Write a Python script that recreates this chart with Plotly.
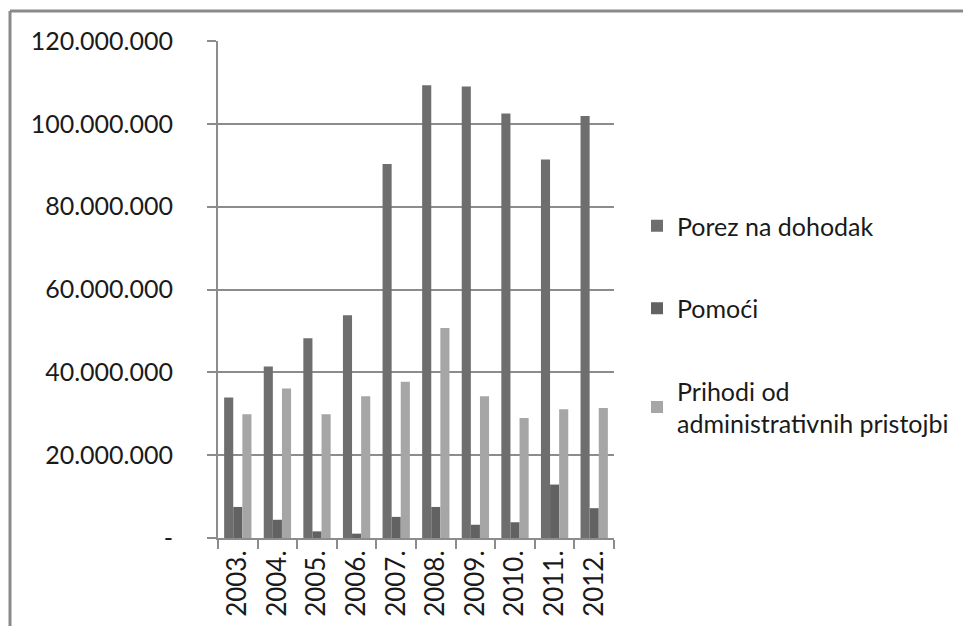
import plotly.graph_objects as go

years = ["2003.", "2004.", "2005.", "2006.", "2007.", "2008.", "2009.", "2010.", "2011.", "2012."]
porez = [33.9e6, 41.4e6, 48.2e6, 53.8e6, 90.3e6, 109.3e6, 109.0e6, 102.5e6, 91.4e6, 101.9e6]
pomoci = [7.5e6, 4.4e6, 1.6e6, 1.05e6, 5.1e6, 7.5e6, 3.2e6, 3.8e6, 12.9e6, 7.2e6]
prihodi = [29.9e6, 36.1e6, 29.9e6, 34.2e6, 37.7e6, 50.7e6, 34.2e6, 29.0e6, 31.1e6, 31.4e6]
series_names = ["Porez na dohodak", "Pomoći", "Prihodi od<br>administrativnih pristojbi"]
tick_vals = [0, 20e6, 40e6, 60e6, 80e6, 100e6, 120e6]
tick_text = ["-", "20.000.000", "40.000.000", "60.000.000", "80.000.000", "100.000.000", "120.000.000"]

colors = ["#6e6e6e", "#626262", "#a6a6a6"]
FONT = "Lato, Carlito, 'Open Sans', sans-serif"
TXT = "#1a1a1a"

fig = go.Figure()
for i, (name, vals) in enumerate(zip(series_names, [porez, pomoci, prihodi])):
    fig.add_trace(go.Bar(
        x=years, y=vals, name=name, marker_color=colors[i],
        marker_line_width=0, legendgroup=str(i),
    ))

# page body has an 8px margin: figure origin sits at window (8, 8)
OFF = 8
W, H = 971, 626
L, T = 218 - OFF, 41 - OFF
pw, ph = 396, 497
R = W - L - pw
B = H - T - ph

def px_x(p):
    return (p - OFF - L) / pw

def px_y(p):
    return 1 - (p - OFF - T) / ph

fig.update_layout(
    width=W, height=H,
    margin=dict(l=L, r=R, t=T, b=B, pad=0),
    paper_bgcolor="white", plot_bgcolor="white",
    barmode="group", bargap=0.31, bargroupgap=0,
    font=dict(family=FONT, size=25, color=TXT),
    showlegend=True,
    legend=dict(
        x=px_x(637), y=px_y(203), xanchor="left", yanchor="top",
        font=dict(size=25, family=FONT, color=TXT),
        tracegroupgap=47, itemwidth=30, bgcolor="rgba(0,0,0,0)",
    ),
    xaxis=dict(
        type="category", tickangle=-90, showline=True, linecolor="#8c8c8c", linewidth=2,
        ticks="outside", tickson="boundaries", ticklen=9, tickcolor="#8c8c8c", tickwidth=2,
        showgrid=False, tickfont=dict(size=26, family=FONT, color=TXT),
    ),
    yaxis=dict(
        range=[0, 120e6], tickvals=tick_vals, ticktext=tick_text,
        showline=True, linecolor="#8c8c8c", linewidth=2,
        ticks="outside", ticklen=9, tickcolor="#8c8c8c", tickwidth=2,
        showgrid=True, gridcolor="#8c8c8c", gridwidth=2, zeroline=False,
        tickfont=dict(size=25, family=FONT, color=TXT), ticklabelstandoff=29,
    ),
    shapes=[
        dict(type="line", xref="paper", yref="paper", x0=px_x(10), x1=px_x(10),
             y0=px_y(640), y1=px_y(11), line=dict(color="#8a8a8a", width=3)),
        dict(type="line", xref="paper", yref="paper", x0=px_x(10), x1=px_x(990),
             y0=px_y(11), y1=px_y(11), line=dict(color="#8a8a8a", width=3)),
    ],
)

fig.write_html("out.html")
